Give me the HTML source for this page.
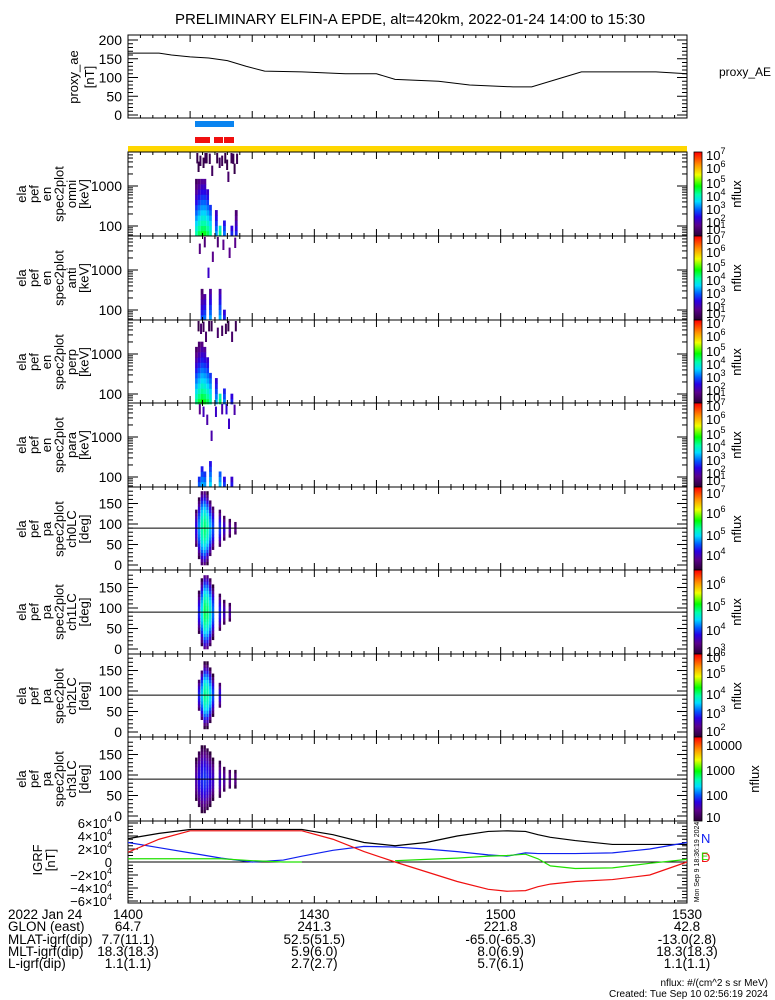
<!DOCTYPE html>
<html><head><meta charset="utf-8"><style>
html,body{margin:0;padding:0;background:#fff;}
svg{display:block;font-family:"Liberation Sans",sans-serif;}
text{fill:#000;}
</style></head><body>
<svg id="fig" width="775" height="1000" viewBox="0 0 775 1000" xmlns="http://www.w3.org/2000/svg">
<text x="410" y="24" font-size="15" text-anchor="middle">PRELIMINARY ELFIN-A EPDE, alt=420km, 2022-01-24 14:00 to 15:30</text>
</svg>
<script>
// ---------- data ----------
const aeTimes = [0,5,7,10,13,16,19,22,28,35,40,43,50,55,62,65,70,73,85,90];
const aeValues = [165,165,160,155,152,145,130,117,115,110,110,95,90,80,75,75,100,115,115,110];
const aeTicks = [0,50,100,150,200];

const igrfTimes = [0,5,10,15,20,25,28,33,38,43,48,53,58,61,64,66,68,72,78,84,90];
const igrfN = [30000,22000,14000,6000,0,3000,9000,18000,24000,23000,20000,16000,11000,9000,14000,13000,13000,13000,14000,20000,30000];
const igrfTotal = [36000,44000,50000,50000,50000,50000,50000,42000,30000,25000,30000,40000,47000,48000,47000,42000,38000,33000,27000,27000,27000];
const igrfD = [15000,35000,48000,48000,48000,48000,48000,35000,16000,0,-15000,-30000,-42000,-45000,-44000,-38000,-34000,-30000,-27000,-20000,0];
const igrfE = [5000,5000,5000,5000,2000,0,0,null,null,2000,4000,6000,9000,10000,12000,5000,-6000,-10000,-9000,-2000,4000];
const igrfTicks = [-60000,-40000,-20000,0,20000,40000,60000];
const igrfTickLabels = ["\u22126\u00d710","\u22124\u00d710","\u22122\u00d710","0","2\u00d710","4\u00d710","6\u00d710"];

// energy spectrogram columns: time (min after 14:00), log flux at 60 keV, log10 of top energy
const enPanelNames = ["omni","anti","perp","para"];
const enColT = [[10.8,11.25,11.7,12.15,12.6,13.05,14.0,14.6,15.3,16.5,17.2],
                [11.7,12.15,13.05,14.6,15.3],
                [10.8,11.25,11.7,12.15,12.6,13.05,14.0,14.6,15.3,16.5],
                [11.25,11.7,12.15,13.05,14.6,15.3,16.5]];
const enColLow = [[4.0,4.3,4.5,4.5,4.3,4.0,3.2,4.1,3.0,2.6,2.6],
                  [2.8,3.0,3.2,3.3,2.6],
                  [4.1,4.4,4.6,4.5,4.3,4.0,3.3,4.2,3.1,2.6],
                  [2.9,3.3,3.2,3.5,3.4,2.7,2.5]];
const enColTop = [[3.1,3.1,3.1,3.05,2.9,2.5,2.3,2.0,2.1,2.0,2.3],
                  [2.4,2.3,2.5,2.4,2.0],
                  [3.15,3.2,3.2,3.1,2.9,2.5,2.3,2.0,2.1,2.0],
                  [2.0,2.2,2.1,2.3,2.1,2.0,2.0]];
// sparse speckles: time, log10 energy, log flux
const enSpeckT = [[11.0,11.5,12.0,13.0,14.2,15.0,15.8,16.5,17.0,17.4,12.5,16.0,11.2,12.3,13.4,15.5,16.8,14.6],
                  [12.2,13.5,15.2,16.2,17.1,12.8,14.3,11.4],
                  [11.2,12.0,12.9,14.3,15.6,16.6,17.2,11.6,16.0,13.3,15.0,12.4],
                  [11.4,12.6,14.0,15.0,16.1,17.0,13.3,12.0,15.7]];
const enSpeckE = [[3.6,3.5,3.45,3.55,3.6,3.5,3.4,3.6,3.3,3.55,3.6,3.1,3.35,3.6,3.25,3.6,3.55,3.45],
                  [3.6,3.2,3.5,3.3,3.55,2.8,3.6,3.4],
                  [3.6,3.55,3.6,3.4,3.5,3.3,3.6,3.5,3.6,3.6,3.45,3.3],
                  [3.6,3.3,3.5,3.6,3.2,3.55,2.9,3.5,3.6]];
const enSpeckF = [[1.2,1.3,1.2,1.3,1.2,1.3,1.2,1.3,1.2,1.3,1.2,1.5,1.2,1.3,1.4,1.2,1.3,1.4],
                  [1.6,1.8,1.8,1.8,1.8,2.2,1.6,1.7],
                  [1.2,1.4,1.3,1.5,1.3,1.5,1.3,1.5,1.2,1.3,1.4,1.5],
                  [1.8,2.0,2.2,2.0,2.2,2.0,2.0,2.1,2.3]];

// pitch-angle spectrogram columns: time, peak log flux at 90 deg, gaussian width (deg)
const paColT = [[10.8,11.25,11.7,12.15,12.6,13.05,13.5,14.6,15.3,16.2,17.1],
                [11.25,11.7,12.15,12.6,13.05,13.5,14.6,15.3,16.2],
                [11.25,11.7,12.15,12.6,13.05,13.5,14.6],
                [10.8,11.25,11.7,12.15,12.6,13.05,13.5,14.6,15.3,16.2,17.1]];
const paColPeak = [[2.4,3.2,4.0,4.2,4.0,3.4,2.8,2.7,2.3,2.0,1.8],
                   [2.6,3.6,4.3,4.2,3.8,3.0,2.6,2.2,2.0],
                   [2.6,3.4,4.1,4.0,3.6,2.8,2.4],
                   [2.0,2.4,2.6,2.7,2.6,2.4,2.2,2.2,2.0,1.9,1.8]];
const paColWidth = [[45,55,60,60,55,50,45,40,30,25,20],
                    [45,55,60,60,55,50,40,30,25],
                    [35,45,50,50,45,40,30],
                    [55,65,70,70,65,60,50,45,35,30,25]];

const xTimes = [0,30,60,90];
const xTickLabels = ["1400","1430","1500","1530"];
const rowLabels = ["2022 Jan 24","GLON (east)","MLAT-igrf(dip)","MLT-igrf(dip)","L-igrf(dip)"];
const rowValues = [["1400","1430","1500","1530"],
                   ["64.7","241.3","221.8","42.8"],
                   ["7.7(11.1)","52.5(51.5)","-65.0(-65.3)","-13.0(2.8)"],
                   ["18.3(18.3)","5.9(6.0)","8.0(6.9)","18.3(18.3)"],
                   ["1.1(1.1)","2.7(2.7)","5.7(6.1)","1.1(1.1)"]];

// ---------- helpers ----------
const NS = "http://www.w3.org/2000/svg";
const svg = document.getElementById("fig");
const X0 = 128, X1 = 687;
const xs = t => X0 + t * (X1 - X0) / 90;
function mk(tag, attrs, parent) {
  const e = document.createElementNS(NS, tag);
  for (const k in attrs) e.setAttribute(k, attrs[k]);
  (parent || svg).appendChild(e);
  return e;
}
function txt(x, y, s, size, anchor, parent, color) {
  const e = mk("text", {x: x, y: y, "font-size": size, "text-anchor": anchor || "start"}, parent);
  if (color) e.setAttribute("style", "fill:" + color);
  e.textContent = s;
  return e;
}
const stops = [[1,[40,0,50]],[1.8,[90,0,140]],[2.4,[40,0,230]],[2.9,[0,90,255]],[3.5,[0,220,255]],[4.0,[0,255,170]],[4.6,[0,255,0]],[5.4,[240,255,0]],[6.1,[255,150,0]],[7,[255,0,0]]];
function cmap(v) {
  if (v <= stops[0][0]) return "rgb(" + stops[0][1] + ")";
  for (let i = 1; i < stops.length; i++) {
    if (v <= stops[i][0]) {
      const a = stops[i-1], b = stops[i], f = (v - a[0]) / (b[0] - a[0]);
      const c = a[1].map((q, j) => Math.round(q + (b[1][j] - q) * f));
      return "rgb(" + c + ")";
    }
  }
  return "rgb(255,0,0)";
}
function timeTicks(g, top, bot) {
  for (let t = 0; t <= 90; t += 2) {
    const x = xs(t), L = (t % 10 === 0) ? 7 : 3;
    mk("line", {x1: x, y1: top, x2: x, y2: top + L, stroke: "#000"}, g);
    mk("line", {x1: x, y1: bot, x2: x, y2: bot - L, stroke: "#000"}, g);
  }
}
function yTick(g, y, major) {
  const L = major ? 10 : 5;
  mk("line", {x1: X0, y1: y, x2: X0 + L, y2: y, stroke: "#000"}, g);
  mk("line", {x1: X1, y1: y, x2: X1 - L, y2: y, stroke: "#000"}, g);
}
function sideLabel(g, lines, cy, xStart, step) {
  lines.forEach((s, i) => {
    const x = xStart + i * step;
    const t = txt(x, cy, s, 13, "middle", g);
    t.setAttribute("transform", "rotate(-90 " + x + " " + cy + ")");
  });
}

// ---------- proxy AE panel ----------
{
  const g = mk("g", {});  
  const top = 35, bot = 118;
  const ya = v => 115 - v * 0.375;
  mk("rect", {x: X0, y: top, width: X1 - X0, height: bot - top, fill: "none", stroke: "#000"}, g);
  timeTicks(g, top, bot);
  for (let v = 0; v <= 200; v += 10) yTick(g, ya(v), v % 50 === 0);
  aeTicks.forEach(v => txt(122, ya(v) + 5, String(v), 14, "end", g));
  const pts = aeTimes.map((t, i) => xs(t) + "," + ya(aeValues[i])).join(" ");
  const l = mk("polyline", {points: pts, fill: "none", stroke: "#000", "stroke-width": 1}, g);
   
  sideLabel(g, ["proxy_ae", "[nT]"], 77, 78, 16);
  const lab = txt(719, 76, "proxy_AE", 12, "start", g);
   
}

// ---------- coverage bars ----------
{
  const g = mk("g", {});  
  mk("rect", {x: 195, y: 121, width: 39, height: 6, fill: "#0a84f0"}, g);
  mk("rect", {x: 195, y: 137, width: 15, height: 6, fill: "#f01010"}, g);
  mk("rect", {x: 214, y: 137, width: 9, height: 6, fill: "#f01010"}, g);
  mk("rect", {x: 224, y: 137, width: 10, height: 6, fill: "#f01010"}, g);
  mk("rect", {x: X0, y: 146, width: X1 - X0, height: 6, fill: "#ffd700"}, g);
}

// ---------- energy spectrograms ----------
const enTops = [152, 236, 320, 403];
const enBots = [236, 320, 403, 487];
const enCbLab = [["10","7",3],["10","6",16],["10","5",31],["10","4",44],["10","3",57],["10","2",70],["10","1",77]];
enTops.forEach((top, p) => {
  const bot = enBots[p], h = bot - top;
  const g = mk("g", {});  
  const ye = le => top + 34 + (3 - le) * 40;
  const binW = 0.13, e0 = Math.log10(56);
  const cw = 2.8;
  enColT[p].forEach((t, i) => {
    for (let le = e0; le < enColTop[p][i]; le += binW) {
      const f = enColLow[p][i] - 2.0 * (le - e0);
      const r = mk("rect", {x: xs(t), y: ye(le + binW), width: cw, height: binW * 40 + 0.3, fill: cmap(f)}, g);
       
    }
  });
  enSpeckT[p].forEach((t, i) => {
    const y0 = Math.max(top + 1, ye(enSpeckE[p][i] + 2 * binW));
    const r = mk("rect", {x: xs(t), y: y0, width: 2, height: binW * 80, fill: cmap(enSpeckF[p][i])}, g);
     
  });
  mk("rect", {x: X0, y: top, width: X1 - X0, height: h, fill: "none", stroke: "#000"}, g);
  timeTicks(g, top, bot);
  for (let dec = 1; dec <= 3; dec++) for (let m = 1; m <= 9; m++) {
    const le = dec + Math.log10(m);
    const y = ye(le);
    if (y > top + 1 && y < bot - 1) yTick(g, y, m === 1);
  }
  txt(122, ye(3) + 5, "1000", 14, "end", g);
  txt(122, ye(2) + 5, "100", 14, "end", g);
  sideLabel(g, ["ela", "pef", "en", "spec2plot", enPanelNames[p], "[keV]"], top + 42, 26, 12.5);
  const cb = mk("g", {}, g);  
  for (let k = 0; k < h; k++) mk("rect", {x: 694, y: top + k, width: 8, height: 1.2, fill: cmap(7 - k * 6 / h)}, cb);
  mk("rect", {x: 694, y: top, width: 8, height: h, fill: "none", stroke: "#000", "stroke-width": 0.8}, cb);
  enCbLab.forEach(l => {
    const t = txt(706, top + l[2] + 5, l[0], 13, "start", cb);
    const s = mk("tspan", {dy: -6, "font-size": 9}, t); s.textContent = l[1];
  });
  const nf = txt(741, top + 42, "nflux", 13, "middle", cb);
  nf.setAttribute("transform", "rotate(-90 741 " + (top + 42) + ")");
});

// ---------- pitch angle spectrograms ----------
const paTops = [487, 570, 654, 737];
const paBots = [570, 654, 737, 821];
const paNames = ["ch0LC", "ch1LC", "ch2LC", "ch3LC"];
const paCbLab = [
  [["10","7",6],["10","6",26],["10","5",48],["10","4",68]],
  [["10","6",14],["10","5",36],["10","4",60],["10","3",81]],
  [["10","6",3],["10","5",19],["10","4",40],["10","3",59],["10","2",77]],
  [["10000","",8],["1000","",33],["100","",58],["10","",80]]];
paTops.forEach((top, p) => {
  const bot = paBots[p], h = bot - top;
  const g = mk("g", {});  
  const yp = pa => bot - 5 - pa * 0.41;
  const bin = 7.5;
  paColT[p].forEach((t, i) => {
    for (let pa = 0; pa < 180; pa += bin) {
      const c = pa + bin / 2, d = (c - 90) / paColWidth[p][i];
      const f = paColPeak[p][i] - 1.2 * d * d;
      if (f < 1.0) continue;
      const r = mk("rect", {x: xs(t), y: yp(pa + bin), width: 2.4, height: bin * 0.41 + 0.3, fill: cmap(f)}, g);
       
    }
  });
  mk("rect", {x: X0, y: top, width: X1 - X0, height: h, fill: "none", stroke: "#000"}, g);
  mk("line", {x1: X0, y1: yp(90), x2: X1, y2: yp(90), stroke: "#000"}, g);
  timeTicks(g, top, bot);
  for (let v = 0; v <= 180; v += 10) yTick(g, yp(v), v % 50 === 0);
  [0, 50, 100, 150].forEach(v => txt(122, yp(v) + 5, String(v), 14, "end", g));
  sideLabel(g, ["ela", "pef", "pa", "spec2plot", paNames[p], "[deg]"], top + 42, 26, 12.5);
  const cb = mk("g", {}, g);  
  for (let k = 0; k < h; k++) mk("rect", {x: 694, y: top + k, width: 8, height: 1.2, fill: cmap(7 - k * 6 / h)}, cb);
  mk("rect", {x: 694, y: top, width: 8, height: h, fill: "none", stroke: "#000", "stroke-width": 0.8}, cb);
  paCbLab[p].forEach(l => {
    const t = txt(706, top + l[2] + 5, l[0], 13, "start", cb);
    if (l[1]) { const s = mk("tspan", {dy: -6, "font-size": 9}, t); s.textContent = l[1]; }
  });
  const nx = p === 3 ? 759 : 741;
  const nf = txt(nx, top + 42, "nflux", 13, "middle", cb);
  nf.setAttribute("transform", "rotate(-90 " + nx + " " + (top + 42) + ")");
});

// ---------- IGRF panel ----------
{
  const g = mk("g", {});  
  const top = 821, bot = 903;
  const yi = v => 862 - v * 39 / 60000;
  mk("rect", {x: X0, y: top, width: X1 - X0, height: bot - top, fill: "none", stroke: "#000"}, g);
  mk("line", {x1: X0, y1: yi(0), x2: X1, y2: yi(0), stroke: "#000"}, g);
  timeTicks(g, top, bot);
  for (let v = -60000; v <= 60000; v += 5000) yTick(g, yi(v), v % 20000 === 0);
  igrfTicks.forEach((v, i) => {
    const t = txt(112, yi(v) + 5, igrfTickLabels[i], 13, "end", g);
    if (v !== 0) { const s = mk("tspan", {dy: -6, "font-size": 9}, t); s.textContent = "4"; }
  });
  function series(vals, color, name) {
    let seg = [];
    const segs = [];
    vals.forEach((v, i) => { if (v === null) { if (seg.length) segs.push(seg); seg = []; } else seg.push(xs(igrfTimes[i]) + "," + yi(v)); });
    if (seg.length) segs.push(seg);
    segs.forEach(s => {
      const l = mk("polyline", {points: s.join(" "), fill: "none", stroke: color, "stroke-width": 1.2}, g);
       
    });
  }
  series(igrfTotal, "#000", "igrf-total-line");
  series(igrfN, "#1020f0", "igrf-n-line");
  series(igrfE, "#20e000", "igrf-e-line");
  series(igrfD, "#f01010", "igrf-d-line");
  sideLabel(g, ["IGRF", "[nT]"], 860, 42, 13);
  txt(701, 843, "N", 13, "start", g, "#1020f0");
  txt(701, 862, "D", 13, "start", g, "#f01010");
  txt(701, 860, "E", 11, "start", g, "#20e000");
  const ts = txt(699, 862, "Mon Sep  9 18:36:19 2024", 7, "middle", g);
  ts.setAttribute("transform", "rotate(-90 699 862)");
}

// ---------- bottom annotations ----------
{
  const g = mk("g", {});  
  const rowY = [919, 931, 944, 956, 968];
  rowLabels.forEach((s, r) => {
    txt(8, rowY[r], s, 13.5, "start", g);
    xTimes.forEach((t, c) => txt(xs(t), rowY[r], rowValues[r][c], 13.5, "middle", g));
  });
  txt(768, 986, "nflux: #/(cm^2 s sr MeV)", 10, "end", g);
  txt(768, 997, "Created: Tue Sep 10 02:56:19 2024", 10, "end", g);
}
</script>
</body></html>
